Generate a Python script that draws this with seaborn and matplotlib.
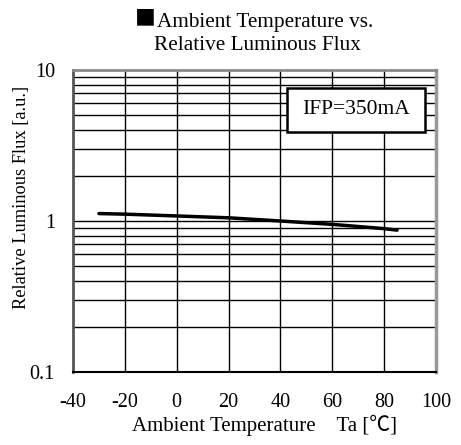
import matplotlib
matplotlib.use("Agg")
import matplotlib.pyplot as plt
import matplotlib.patches as mpatches
import seaborn as sns
import pandas as pd
from matplotlib.ticker import FixedLocator, NullFormatter, NullLocator

temps = [-30, -20, 0, 20, 40, 60, 80, 85]
flux = [1.12, 1.11, 1.08, 1.05, 1.00, 0.95, 0.89, 0.87]
x_ticks = [-40, -20, 0, 20, 40, 60, 80, 100]
y_ticks = [0.1, 1, 10]
y_ticklabels = ["0.1", "1", "10"]

sns.set_theme(style="white")
plt.rcParams['font.family'] = ['Liberation Serif', 'DejaVu Serif']
plt.rcParams['text.color'] = 'black'
plt.rcParams['axes.labelcolor'] = 'black'
plt.rcParams['xtick.color'] = 'black'
plt.rcParams['ytick.color'] = 'black'

df = pd.DataFrame({"Ta": temps, "Flux": flux})

W, H = 461, 445
fig = plt.figure(figsize=(W / 100, H / 100), dpi=100)
ax = fig.add_axes([73 / W, 1 - 372 / H, (436 - 73) / W, (372 - 70) / H])

ax.set_yscale("log")
ax.set_xlim(-40, 100)
ax.set_ylim(0.1, 10)

# grid
minor = [m * d for d in (0.1, 1) for m in range(2, 10)]
for v in minor + [1]:
    ax.axhline(v, color="black", lw=1.0, zorder=1)
for v in x_ticks[1:-1]:
    ax.axvline(v, color="black", lw=1.0, zorder=1)

sns.lineplot(data=df, x="Ta", y="Flux", ax=ax, color="black", lw=2.5, zorder=3)

ax.set_xticks(x_ticks)
ax.set_xticklabels([str(t) for t in x_ticks], fontsize=14.5)
ax.yaxis.set_major_locator(FixedLocator(y_ticks))
ax.set_yticklabels(y_ticklabels, fontsize=14.5)
ax.yaxis.set_minor_locator(NullLocator())
ax.yaxis.set_minor_formatter(NullFormatter())
ax.tick_params(axis="x", which="major", length=0, pad=15, colors="black")
ax.tick_params(axis="y", which="major", length=0, pad=13, colors="black")

ax.set_xlabel("")
ax.set_ylabel("")
fig.text(264 / W, 1 - 425 / H, "Ambient Temperature　Ta [℃]", ha="center", va="center",
         fontsize=15, color="black", family=['Liberation Serif', 'Noto Sans CJK JP'])
fig.text(22 / W, 1 - 197 / H, "Relative Luminous Flux [a.u.]", ha="center", va="center",
         rotation=90, fontsize=13.2, color="black")

for side, col, w in (("left", "#555555", 2.0), ("top", "#888888", 2.0),
                     ("right", "#999999", 2.5), ("bottom", "black", 1.5)):
    ax.spines[side].set_visible(True)
    ax.spines[side].set_color(col)
    ax.spines[side].set_linewidth(w)

# title
fig.text(156 / W, 1 - 18 / H, "■", ha="right", va="center", color="black",
         fontsize=15, family=['Noto Sans CJK JP', 'DejaVu Sans'])
fig.text(157 / W, 1 - 22 / H, "Ambient Temperature vs.", ha="left", va="center",
         fontsize=15.3, color="black")
fig.text(257.5 / W, 1 - 46 / H, "Relative Luminous Flux", ha="center", va="center",
         fontsize=15.3, color="black")

# condition box
fig.patches.append(mpatches.Rectangle((287 / W, 1 - 132 / H), (425 - 287) / W, (132 - 88) / H,
                                      transform=fig.transFigure, fc="white", ec="black",
                                      lw=1.8, zorder=5))
fig.text(356 / W, 1 - 110 / H, "IFP=350mA", ha="center", va="center",
         fontsize=15.5, color="black", zorder=6)

fig.savefig("out.png", dpi=100)
